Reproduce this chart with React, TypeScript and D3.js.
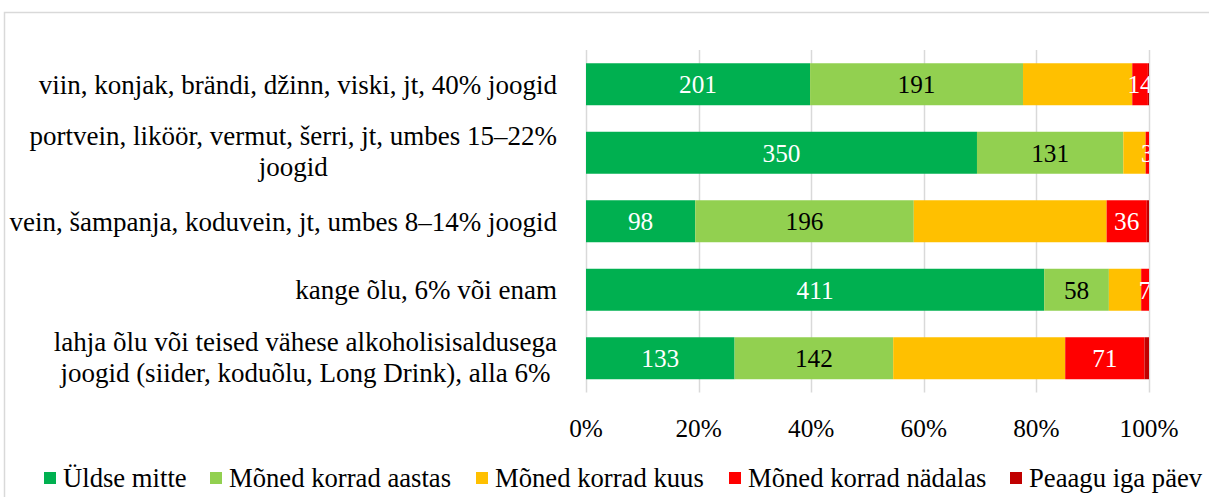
import React, { useEffect, useRef } from "react";
import * as d3 from "d3";

const categories: string[][] = [
  ["viin, konjak, brändi, džinn, viski, jt, 40% joogid"],
  ["portvein, liköör, vermut, šerri, jt, umbes 15–22%", "joogid"],
  ["vein, šampanja, koduvein, jt, umbes 8–14% joogid"],
  ["kange õlu, 6% või enam"],
  ["lahja õlu või teised vähese alkoholisisaldusega", "joogid (siider, koduõlu, Long Drink), alla 6%"],
];

const seriesNames = [
  "Üldse mitte",
  "Mõned korrad aastas",
  "Mõned korrad kuus",
  "Mõned korrad nädalas",
  "Peaagu iga päev",
];
const seriesColors = ["#00B050", "#92D050", "#FFC000", "#FF0000", "#C00000"];
const labelColors = ["#FFFFFF", "#000000", null, "#FFFFFF", null];

const uldseMitte = [201, 350, 98, 411, 133];
const aastas = [191, 131, 196, 58, 142];
const kuus = [98, 20, 173, 29, 154];
const nadalas = [14, 3, 36, 7, 71];
const igaPaev = [1, 0, 2, 0, 4];
const seriesValues = [uldseMitte, aastas, kuus, nadalas, igaPaev];

const xTicks = [0, 0.2, 0.4, 0.6, 0.8, 1];

const W = 1209;
const H = 497;
const FONT = "'Liberation Serif', 'Times New Roman', serif";
const CAT_FS = 27;
const LEG_FS = 26.67;
const NUM_FS = 25.3;

export default function App() {
  const ref = useRef<SVGSVGElement | null>(null);

  useEffect(() => {
    const svg = d3.select(ref.current);
    svg.selectAll("*").remove();

    const x0 = 586, x1 = 1149, y0 = 50, y1 = 392.5;
    const x = d3.scaleLinear().domain([0, 1]).range([x0, x1]);
    const y = d3
      .scaleBand<number>()
      .domain(d3.range(categories.length))
      .range([y0, y1])
      .paddingInner(0.387)
      .paddingOuter(0.1935);

    // frame
    svg.append("rect")
      .attr("x", 4.5).attr("y", 12.5)
      .attr("width", W + 10).attr("height", H + 10)
      .attr("fill", "#fff").attr("stroke", "#D9D9D9").attr("stroke-width", 1.5);

    // gridlines
    svg.append("g").selectAll("line").data(xTicks).join("line")
      .attr("x1", (d) => Math.round(x(d)) + 0.5).attr("x2", (d) => Math.round(x(d)) + 0.5)
      .attr("y1", y0).attr("y2", y1)
      .attr("stroke", "#D9D9D9").attr("stroke-width", 1.5);

    // stacked data (percent)
    const totals = categories.map((_, i) => d3.sum(seriesValues, (s) => s[i]));
    const defs = svg.append("defs");
    defs.append("clipPath").attr("id", "plotclip")
      .append("rect").attr("x", x0).attr("y", y0).attr("width", x1 - x0).attr("height", y1 - y0);

    const bars = svg.append("g");
    const labels = svg.append("g").attr("clip-path", "url(#plotclip)");
    categories.forEach((_, i) => {
      let cum = 0;
      seriesValues.forEach((s, k) => {
        const v = s[i];
        const a = cum / totals[i];
        const b = (cum + v) / totals[i];
        cum += v;
        if (v <= 0) return;
        bars.append("rect")
          .attr("x", x(a)).attr("width", x(b) - x(a))
          .attr("y", y(i)!).attr("height", y.bandwidth())
          .attr("fill", seriesColors[k]);
        const lc = labelColors[k];
        if (lc) {
          labels.append("text")
            .attr("x", (x(a) + x(b)) / 2)
            .attr("y", y(i)! + y.bandwidth() / 2)
            .attr("dy", "0.35em")
            .attr("text-anchor", "middle")
            .attr("font-family", FONT).attr("font-size", NUM_FS)
            .attr("fill", lc)
            .text(String(v));
        }
      });
    });

    // category labels
    const catRight = 557;
    const lineH = 31;
    categories.forEach((lines, i) => {
      const cy = y(i)! + y.bandwidth() / 2 - (lines.length > 1 ? 1.5 : 0);
      const g = svg.append("g");
      const texts = lines.map((ln, j) =>
        g.append("text")
          .attr("y", cy + (j - (lines.length - 1) / 2) * lineH)
          .attr("dy", "0.35em")
          .attr("font-family", FONT).attr("font-size", CAT_FS)
          .attr("fill", "#000")
          .text(ln)
      );
      const widths = texts.map((t) => (t.node() as SVGTextElement).getComputedTextLength());
      const maxW = Math.max(...widths);
      const center = catRight - maxW / 2;
      texts.forEach((t) => t.attr("x", center).attr("text-anchor", "middle"));
    });

    // x-axis tick labels
    svg.append("g").selectAll("text").data(xTicks).join("text")
      .attr("x", (d) => x(d)).attr("y", 428).attr("dy", "0.35em")
      .attr("text-anchor", "middle")
      .attr("font-family", FONT).attr("font-size", NUM_FS)
      .text((d) => d3.format(".0%")(d));

    // legend
    const lg = svg.append("g");
    const starts = [44, 210, 476, 729, 1010];
    seriesNames.forEach((name, k) => {
      const sx = starts[k];
      lg.append("rect").attr("x", sx).attr("y", 472).attr("width", 12).attr("height", 12)
        .attr("fill", seriesColors[k]);
      lg.append("text").attr("x", sx + 19).attr("y", 478).attr("dy", "0.35em")
        .attr("font-family", FONT).attr("font-size", LEG_FS)
        .text(name);
    });
  }, []);

  return (
    <svg
      ref={ref}
      width={W}
      height={H}
      style={{ position: "absolute", left: 0, top: 0, background: "#fff" }}
    />
  );
}
